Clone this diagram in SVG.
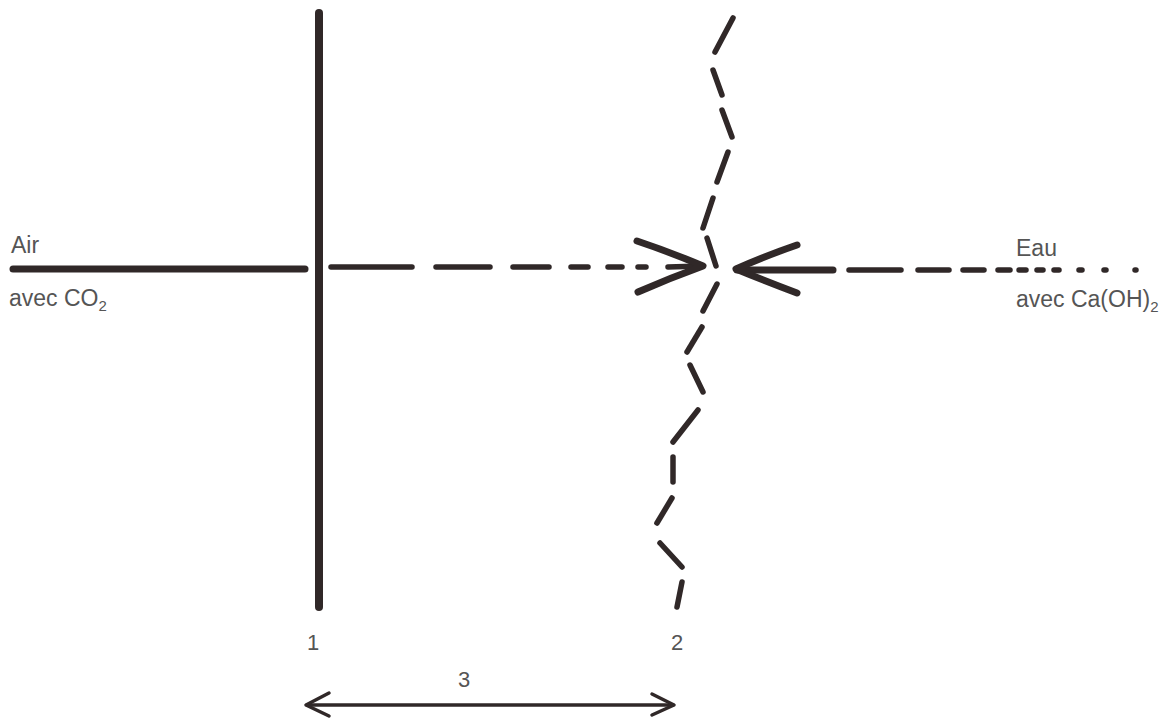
<svg xmlns="http://www.w3.org/2000/svg" width="1170" height="720" viewBox="0 0 1170 720">
  <style>
    .ink { stroke: #302828; fill: none; stroke-linecap: round; stroke-linejoin: round; }
    .thick { stroke-width: 7; }
    .dash { stroke-width: 5.5; }
    .thin { stroke-width: 3.5; }
    .lbl { font-family: "Liberation Sans", Arial, sans-serif; font-size: 23px; fill: #555; }
    .num { font-family: "Liberation Sans", Arial, sans-serif; font-size: 22px; fill: #555; }
    .sub { font-size: 15px; }
  </style>
  <rect width="1170" height="720" fill="#ffffff"/>

  <g id="interface-1">
    <line class="ink" x1="319" y1="13" x2="319" y2="607" stroke-width="8"/>
  </g>

  <g id="interface-2" class="ink dash">
    <line x1="733" y1="18" x2="715" y2="52"/>
    <line x1="713" y1="70" x2="722" y2="95"/>
    <line x1="722" y1="110" x2="732" y2="137"/>
    <line x1="728" y1="152" x2="717" y2="182"/>
    <line x1="713" y1="198" x2="703" y2="228"/>
    <line x1="707" y1="238" x2="716" y2="266"/>
    <line x1="717" y1="284" x2="703" y2="311"/>
    <line x1="702" y1="327" x2="687" y2="352"/>
    <line x1="690" y1="365" x2="703" y2="392"/>
    <line x1="698" y1="410" x2="673" y2="442"/>
    <line x1="673" y1="457" x2="673" y2="482"/>
    <line x1="672" y1="498" x2="657" y2="523"/>
    <line x1="660" y1="543" x2="682" y2="567"/>
    <line x1="682" y1="582" x2="677" y2="607"/>
  </g>

  <g id="connectors">
    <g id="air-flow" class="ink">
      <line class="thick" x1="13" y1="269" x2="305" y2="269"/>
      <g class="dash">
        <line x1="331" y1="267" x2="412" y2="267"/>
        <line x1="436" y1="267" x2="490" y2="267"/>
        <line x1="513" y1="267" x2="549" y2="267"/>
        <line x1="571" y1="267" x2="588" y2="267"/>
        <line x1="608" y1="267" x2="622" y2="267"/>
        <line x1="638" y1="267" x2="646" y2="267"/>
        <line x1="668" y1="267" x2="702" y2="266"/>
      </g>
      <path class="thick" d="M637 241 Q670 252 703 266 Q670 278 638 292"/>
    </g>

    <g id="water-flow" class="ink">
      <line class="thick" x1="737" y1="270" x2="833" y2="270"/>
      <path class="thick" d="M797 245 Q765 256 736 269 Q765 281 797 293"/>
      <g class="dash">
        <line x1="849" y1="270" x2="901" y2="270"/>
        <line x1="918" y1="270" x2="949" y2="270"/>
        <line x1="963" y1="270" x2="984" y2="270"/>
        <line x1="998" y1="270" x2="1010" y2="270"/>
        <line x1="1019" y1="270" x2="1026" y2="270"/>
        <line x1="1037" y1="270" x2="1043" y2="270"/>
        <line x1="1054" y1="270" x2="1059" y2="270"/>
        <line x1="1079" y1="270" x2="1082" y2="270"/>
        <line x1="1104" y1="270" x2="1106" y2="270"/>
        <line x1="1135" y1="270" x2="1136" y2="270"/>
      </g>
    </g>

    <g id="distance-3" class="ink">
      <line class="thin" x1="307" y1="705" x2="673" y2="705"/>
      <path class="thin" d="M329 693 L306 705 L329 716"/>
      <path class="thin" d="M652 694 L674 705 L652 715"/>
    </g>
  </g>

  <g id="labels">
    <text class="lbl" x="11" y="253">Air</text>
    <text class="lbl" x="9" y="306">avec CO<tspan class="sub" dy="5">2</tspan></text>
    <text class="lbl" x="1016" y="256">Eau</text>
    <text class="lbl" x="1016" y="307">avec Ca(OH)<tspan class="sub" dy="5">2</tspan></text>
    <text class="num" x="307" y="650">1</text>
    <text class="num" x="671" y="650">2</text>
    <text class="num" x="458" y="687">3</text>
  </g>
</svg>
